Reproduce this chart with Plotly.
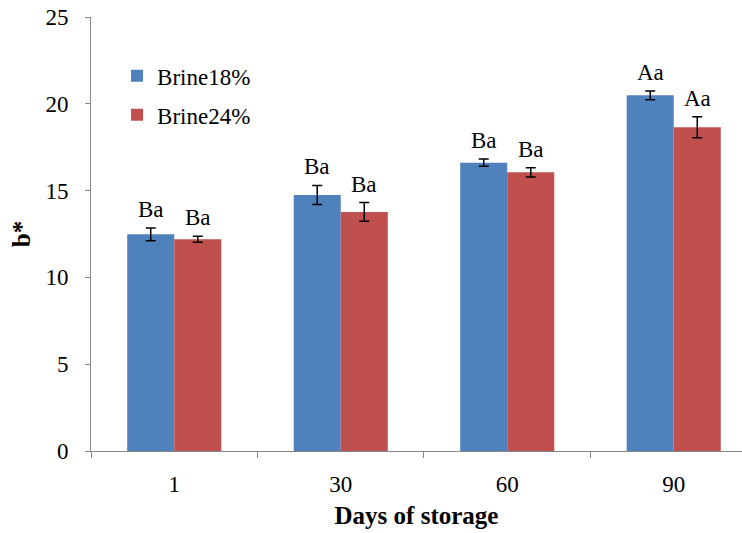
import plotly.graph_objects as go

# b* colour values over storage time for two brine concentrations
days = ["1", "30", "60", "90"]
brine18 = [12.48, 14.75, 16.61, 20.49]
brine18_err = [0.37, 0.55, 0.21, 0.25]
brine24 = [12.20, 13.77, 16.05, 18.65]
brine24_err = [0.17, 0.54, 0.27, 0.60]
labels18 = ["Ba", "Ba", "Ba", "Aa"]
labels24 = ["Ba", "Ba", "Ba", "Aa"]

BLUE = "#4F81BD"
RED = "#C0504D"
FONT = "Liberation Serif, Times New Roman, serif"
AXIS_GRAY = "#868686"

fig = go.Figure()
fig.add_trace(go.Bar(
    x=days, y=brine18, name="Brine18%", marker_color=BLUE,
    marker_line_width=0, legendgroup="b18",
    error_y=dict(type="data", array=brine18_err, color="black",
                 thickness=1.5, width=5),
))
fig.add_trace(go.Bar(
    x=days, y=brine24, name="Brine24%", marker_color=RED,
    marker_line_width=0, legendgroup="b24",
    error_y=dict(type="data", array=brine24_err, color="black",
                 thickness=1.5, width=5),
))

# significance letters above each error bar (x given as category index)
half_bar_px = 23.5
for vals, errs, labs, shift in [(brine18, brine18_err, labels18, -half_bar_px),
                                (brine24, brine24_err, labels24, half_bar_px)]:
    for i, (v, e, t) in enumerate(zip(vals, errs, labs)):
        fig.add_annotation(
            x=i, y=v + e, text=t, showarrow=False, xref="x", yref="y",
            xshift=shift, yshift=4, yanchor="bottom",
            font=dict(family=FONT, size=23, color="black"),
        )

fig.update_layout(
    width=742, height=533,
    margin=dict(l=91, r=0, t=17, b=82),
    paper_bgcolor="white", plot_bgcolor="white",
    barmode="group", bargap=0.435, bargroupgap=0,
    font=dict(family=FONT, size=23, color="black"),
    legend=dict(
        x=0.04, y=0.914, xanchor="left", yanchor="top",
        font=dict(family=FONT, size=23, color="black"),
        bgcolor="rgba(0,0,0,0)", tracegroupgap=6,
        traceorder="grouped",
    ),
    xaxis=dict(
        type="category", range=[-0.5, 3.41],
        showline=True, linecolor=AXIS_GRAY, linewidth=1,
        ticks="outside", tickson="boundaries", ticklen=6,
        tickcolor=AXIS_GRAY, showgrid=False,
        tickfont=dict(family=FONT, size=23, color="black"),
        ticklabelstandoff=12,
        title=dict(text="<b>Days of storage</b>", standoff=10,
                   font=dict(family=FONT, size=25, color="black")),
    ),
    yaxis=dict(
        range=[0, 25], tickvals=[0, 5, 10, 15, 20, 25],
        showline=True, linecolor=AXIS_GRAY, linewidth=1,
        ticks="outside", ticklen=5, tickcolor=AXIS_GRAY,
        showgrid=False, zeroline=False,
        tickfont=dict(family=FONT, size=23, color="black"),
        ticklabelstandoff=12,
        title=dict(text="<b>b*</b>", standoff=7,
                   font=dict(family=FONT, size=25, color="black")),
    ),
)

fig.write_html("out.html")
